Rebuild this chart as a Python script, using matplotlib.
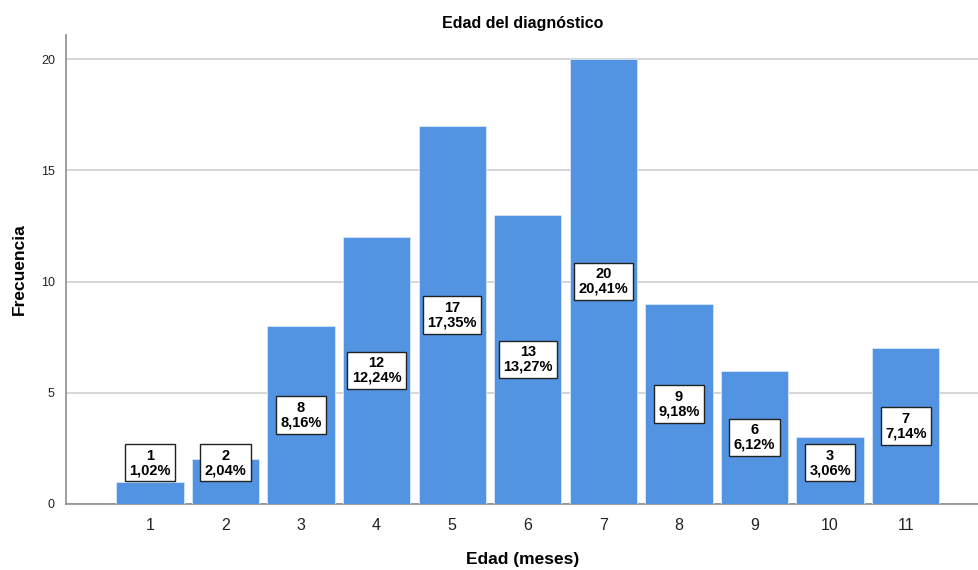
import numpy as np
import matplotlib.pyplot as plt

plt.rcParams['font.family'] = ['Liberation Sans', 'DejaVu Sans']

# Frecuencias por edad al diagnóstico
edades = [1, 2, 3, 4, 5, 6, 7, 8, 9, 10, 11]
frecuencias = [1, 2, 8, 12, 17, 13, 20, 9, 6, 3, 7]
porcentajes = ['1,02%', '2,04%', '8,16%', '12,24%', '17,35%', '13,27%',
               '20,41%', '9,18%', '6,12%', '3,06%', '7,14%']

fig = plt.figure(figsize=(9.79, 5.70), dpi=100)
ax = fig.add_axes([0.0674, 0.1158, 0.9326, 0.8228])

ax.bar(edades, frecuencias, width=0.89, color='#5294e2',
       edgecolor='#d6e6f8', linewidth=0.6, zorder=3)

for x, f, p in zip(edades, frecuencias, porcentajes):
    y = max(f / 2, 1.85)
    ax.text(x, y, f'{f}\n{p}', ha='center', va='center', fontsize=10.5,
            fontweight='bold', linespacing=1.05, zorder=4,
            bbox=dict(boxstyle='square,pad=0.3', facecolor='white',
                      edgecolor='#222222', linewidth=1.0))

ax.set_xlim(-0.11, 11.97)
ax.set_ylim(0, 21.08)
ax.set_xticks(edades)
ax.set_yticks([0, 5, 10, 15, 20])
ax.tick_params(axis='x', length=0, labelsize=11.5, colors='#222222', pad=10)
ax.tick_params(axis='y', length=0, labelsize=9, colors='#222222', pad=8)
ax.yaxis.grid(True, color='#d0d0d0', linewidth=1.2, zorder=0)

for s in ['top', 'right']:
    ax.spines[s].set_visible(False)
for s in ['left', 'bottom']:
    ax.spines[s].set_color('#8c8c8c')
    ax.spines[s].set_linewidth(1.2)

ax.set_title('Edad del diagnóstico', fontsize=11.5, fontweight='bold', pad=5)
ax.set_xlabel('Edad (meses)', fontsize=12.5, fontweight='bold', labelpad=14)
ax.set_ylabel('Frecuencia', fontsize=12.5, fontweight='bold', labelpad=10)

fig.savefig('out.png', dpi=100)
